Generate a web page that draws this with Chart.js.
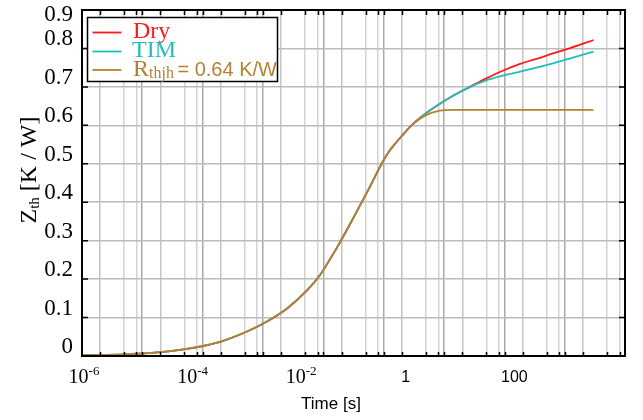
<!DOCTYPE html>
<html>
<head>
<meta charset="utf-8">
<title>Zth</title>
<script src="https://cdn.jsdelivr.net/npm/chart.js@4.4.1/dist/chart.umd.min.js"></script>
<style>
  html, body { margin: 0; padding: 0; background: #fff; }
  #wrap { width: 643px; height: 420px; }
</style>
</head>
<body>
<div id="wrap"><canvas id="zthChart"></canvas></div>
<script>
// time axis (s) and thermal impedance curves (K/W)
const timeS = [1e-6, 2.9e-6, 7.6e-6, 2.75e-5, 9.8e-5, 3.5e-4, 1.07e-3, 2.5e-3, 5.9e-3, 0.0138,
  0.024, 0.037, 0.056, 0.1, 0.2, 0.33, 0.44, 0.56, 0.72, 1.17, 2.1, 3.9, 6.8, 14, 28, 56, 117, 234, 470, 980, 2630];
const zthDry = [0.002, 0.003, 0.005, 0.010, 0.020, 0.037, 0.063, 0.089, 0.123, 0.170,
  0.210, 0.252, 0.295, 0.360, 0.440, 0.500, 0.530, 0.549, 0.567, 0.600, 0.630, 0.656, 0.677, 0.700, 0.722, 0.742, 0.760, 0.773, 0.787, 0.801, 0.822];
const zthTim = [0.002, 0.003, 0.005, 0.010, 0.020, 0.037, 0.063, 0.089, 0.123, 0.170,
  0.210, 0.252, 0.295, 0.360, 0.440, 0.500, 0.530, 0.549, 0.567, 0.600, 0.630, 0.656, 0.677, 0.700, 0.717, 0.729, 0.740, 0.750, 0.761, 0.774, 0.792];
const zthModel = [0.002, 0.003, 0.005, 0.010, 0.020, 0.037, 0.063, 0.089, 0.123, 0.170,
  0.210, 0.252, 0.295, 0.360, 0.440, 0.500, 0.530, 0.549, 0.567, 0.600, 0.626, 0.638, 0.640, 0.640, 0.640, 0.640, 0.640, 0.640, 0.640, 0.640, 0.640];

const yTicks = [0, 0.1, 0.2, 0.3, 0.4, 0.5, 0.6, 0.7, 0.8, 0.9];
const xTickValues = [1e-6, 1e-4, 1e-2, 1, 100];
const xTickBase = ['10', '10', '10', '1', '100'];
const xTickExp = ['-6', '-4', '-2', '', ''];
const gridMantissa = [1, 2.5, 4, 5];

const SERIF = "'Liberation Serif', 'Times New Roman', serif";
const SANS = "'Liberation Sans', Arial, sans-serif";
const colDry = '#ff1a1a';
const colTim = '#22bdbd';
const colModel = '#b5812e';

function series(vals) {
  return timeS.map((t, i) => ({ x: t, y: vals[i] }));
}

// frame, inward ticks, tick labels, axis titles and legend box
const decorations = {
  id: 'decorations',
  afterDraw(chart) {
    const ctx = chart.ctx;
    const a = chart.chartArea;
    const xs = chart.scales.x, ys = chart.scales.y, xg = chart.scales.xg;
    ctx.save();

    ctx.strokeStyle = '#000';
    ctx.lineWidth = 1.5;
    ctx.beginPath();
    xg.ticks.forEach((t) => {
      const px = Math.round(xg.getPixelForValue(t.value)) + 0.5;
      ctx.moveTo(px, a.bottom); ctx.lineTo(px, a.bottom - 4);
      ctx.moveTo(px, a.top); ctx.lineTo(px, a.top + 5);
    });
    yTicks.forEach((v) => {
      const py = ys.getPixelForValue(v);
      ctx.moveTo(a.left, py); ctx.lineTo(a.left + 6, py);
      ctx.moveTo(a.right, py); ctx.lineTo(a.right - 6, py);
    });
    ctx.stroke();

    ctx.lineWidth = 2;
    ctx.strokeRect(a.left, a.top, a.right - a.left, a.bottom - a.top);

    // y tick labels
    ctx.fillStyle = '#000';
    ctx.font = '23px ' + SERIF;
    ctx.textAlign = 'right';
    ctx.textBaseline = 'middle';
    yTicks.forEach((v) => {
      const py = ys.getPixelForValue(v);
      ctx.fillText(String(v), a.left - 9, Math.max(py - 9, 15));
    });

    // x tick labels
    ctx.textBaseline = 'alphabetic';
    ctx.textAlign = 'left';
    xTickValues.forEach((v, i) => {
      const px = xs.getPixelForValue(v);
      if (xTickExp[i]) {
        ctx.font = '20px ' + SERIF;
        const wb = ctx.measureText(xTickBase[i]).width;
        ctx.font = '13px ' + SERIF;
        const we = ctx.measureText(xTickExp[i]).width;
        const x0 = px - (wb + we) / 2 + 2;
        ctx.font = '20px ' + SERIF;
        ctx.fillText(xTickBase[i], x0, 383);
        ctx.font = '13px ' + SERIF;
        ctx.fillText(xTickExp[i], x0 + wb, 375);
      } else {
        ctx.font = '16px ' + SANS;
        const w = ctx.measureText(xTickBase[i]).width;
        ctx.fillText(xTickBase[i], px - w / 2 - 2, 382);
      }
    });

    // x title
    ctx.font = '17px ' + SANS;
    ctx.textAlign = 'center';
    ctx.fillText('Time [s]', 331, 409);

    // y title, rotated, with subscript
    ctx.save();
    ctx.translate(36, 170);
    ctx.rotate(-Math.PI / 2);
    ctx.textAlign = 'left';
    ctx.font = '24px ' + SERIF;
    const wz = ctx.measureText('Z').width;
    const wr = ctx.measureText(' [K / W]').width;
    ctx.font = '15px ' + SERIF;
    const ws = ctx.measureText('th').width;
    let x0 = -(wz + ws + wr) / 2;
    ctx.font = '24px ' + SERIF;
    ctx.fillText('Z', x0, 0);
    ctx.font = '15px ' + SERIF;
    ctx.fillText('th', x0 + wz, 3);
    ctx.font = '24px ' + SERIF;
    ctx.fillText(' [K / W]', x0 + wz + ws, 0);
    ctx.restore();

    // legend
    const lx = 87.5, ly = 17.5, lw = 190, lh = 64;
    ctx.fillStyle = '#fff';
    ctx.fillRect(lx, ly, lw, lh);
    ctx.strokeStyle = '#000';
    ctx.lineWidth = 1.5;
    ctx.strokeRect(lx, ly, lw, lh);

    const rows = [
      { color: colDry, y: 32.5, base: 37.5 },
      { color: colTim, y: 51.5, base: 56.5 },
      { color: colModel, y: 70, base: 76 }
    ];
    rows.forEach((r) => {
      ctx.strokeStyle = r.color;
      ctx.lineWidth = 1.8;
      ctx.beginPath();
      ctx.moveTo(92.5, r.y); ctx.lineTo(121.5, r.y);
      ctx.stroke();
    });
    ctx.textAlign = 'left';
    ctx.font = '24px ' + SERIF;
    ctx.fillStyle = colDry;
    ctx.fillText(chart.data.datasets[0].label, 133, rows[0].base);
    ctx.fillStyle = colTim;
    ctx.fillText(chart.data.datasets[1].label, 132, rows[1].base);
    ctx.fillStyle = colModel;
    ctx.fillText('R', 133, rows[2].base);
    const wR = ctx.measureText('R').width;
    ctx.font = '16px ' + SERIF;
    ctx.fillText('thjh', 133 + wR, rows[2].base + 1.5);
    const wSub = ctx.measureText('thjh').width;
    ctx.font = '20px ' + SANS;
    ctx.fillText(' = 0.64 K/W', 133 + wR + wSub - 2, rows[2].base);

    ctx.restore();
  }
};

new Chart(document.getElementById('zthChart'), {
  type: 'line',
  data: {
    datasets: [
      { label: 'Dry', data: series(zthDry), borderColor: colDry, order: 2 },
      { label: 'TIM', data: series(zthTim), borderColor: colTim, order: 1 },
      { label: 'Rthjh = 0.64 K/W', data: series(zthModel), borderColor: colModel, order: 0 }
    ]
  },
  options: {
    responsive: true,
    maintainAspectRatio: false,
    animation: false,
    layout: { padding: { left: 0, right: 18, top: 10, bottom: 0 } },
    elements: {
      point: { radius: 0 },
      line: { borderWidth: 1.8, cubicInterpolationMode: 'monotone', fill: false }
    },
    plugins: {
      legend: { display: false },
      tooltip: { enabled: false }
    },
    scales: {
      x: {
        type: 'logarithmic',
        position: 'bottom',
        min: 1e-6,
        max: 1e4,
        ticks: { display: false },
        grid: { display: false },
        border: { display: false },
        afterFit: (scale) => { scale.height = 64; }
      },
      // grid lines along the time axis
      xg: {
        type: 'logarithmic',
        position: 'bottom',
        min: 0.5035,
        max: 4.92e8,
        ticks: { display: false },
        border: { display: false },
        grid: {
          drawTicks: false,
          lineWidth: 1.5,
          color: (c) => {
            const v = c.tick ? c.tick.value : 1;
            const m = Math.round(v / Math.pow(10, Math.floor(Math.log10(v) + 1e-9)) * 10) / 10;
            if (m === 5) return '#a9a9a9';
            if (m === 1) return '#c4c4c4';
            return '#d3d3d3';
          }
        },
        afterBuildTicks: (scale) => {
          const t = [];
          for (let e = 0; e <= 8; e++) {
            gridMantissa.forEach((m) => {
              const v = m * Math.pow(10, e);
              if (v > scale.min && v < scale.max) t.push({ value: v });
            });
          }
          scale.ticks = t;
        },
        afterFit: (scale) => { scale.height = 0; }
      },
      y: {
        min: 0,
        max: 0.9,
        ticks: { display: false, stepSize: 0.1 },
        border: { display: false },
        grid: { drawTicks: false, color: '#bcbcbc', lineWidth: 1.5 },
        afterFit: (scale) => { scale.width = 82; }
      }
    }
  },
  plugins: [decorations]
});
</script>
</body>
</html>
